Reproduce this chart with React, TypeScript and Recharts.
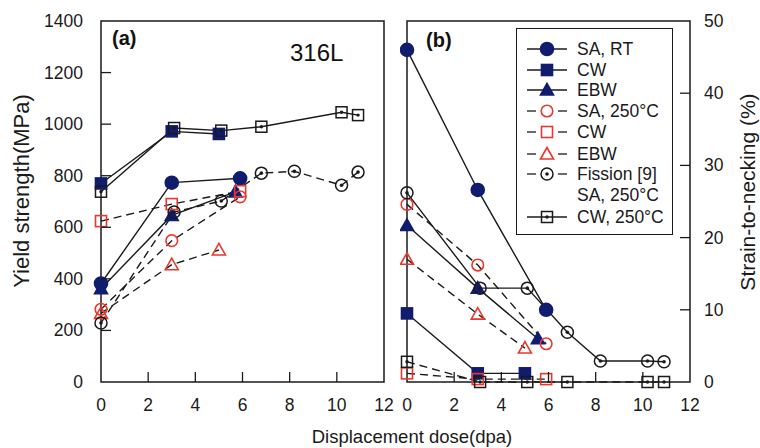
import React from "react";
import { LineChart, Line, XAxis, YAxis, ReferenceArea, Legend } from "recharts";

const NAVY = "#101c6e";
const RED = "#e8382d";
const INK = "#1a1a1a";
const FONT = "'Liberation Sans', Arial, sans-serif";

const doseTicks = [0, 2, 4, 6, 8, 10, 12];
const ysTicks = [0, 200, 400, 600, 800, 1000, 1200, 1400];
const stnTicks = [0, 10, 20, 30, 40, 50];

// (a) yield strength, MPa
const saRtDoseA = [0, 3, 5.9];
const saRtYs = [382, 773, 790];
const cwRtDoseA = [0, 3, 5];
const cwRtYs = [770, 972, 962];
const ebwRtDoseA = [0, 3, 5.7];
const ebwRtYs = [362, 646, 737];
const sa250DoseA = [0, 3, 5.9];
const sa250Ys = [282, 548, 718];
const cw250DoseA = [0, 3, 5.9];
const cw250Ys = [624, 690, 740];
const ebw250DoseA = [0, 3, 5];
const ebw250Ys = [266, 455, 512];
const fisSaDoseA = [0, 3.1, 5.1, 6.8, 8.2, 10.2, 10.9];
const fisSaYs = [229, 659, 702, 810, 817, 763, 814];
const fisCwDoseA = [0, 3.1, 5.1, 6.8, 10.2, 10.9];
const fisCwYs = [738, 985, 975, 990, 1046, 1035];

// (b) strain-to-necking, %
const saRtDoseB = [0, 3, 5.9];
const saRtStn = [46, 26.6, 10];
const cwRtDoseB = [0, 3, 5];
const cwRtStn = [9.5, 1.2, 1.2];
const ebwRtDoseB = [0, 3, 5.55];
const ebwRtStn = [21.7, 13, 6];
const sa250DoseB = [0, 3, 5.9];
const sa250Stn = [24.6, 16.2, 5.3];
const cw250DoseB = [0, 3, 5.9];
const cw250Stn = [1.2, 0.4, 0.4];
const ebw250DoseB = [0, 3, 5];
const ebw250Stn = [17, 9.4, 4.7];
const fisSaDoseB = [0, 3.1, 5.1, 6.8, 8.2, 10.2, 10.9];
const fisSaStn = [26.2, 13, 13, 6.9, 2.9, 2.9, 2.8];
const fisCwDoseB = [0, 3.1, 5.1, 6.8, 10.2, 10.9];
const fisCwStn = [2.8, 0, 0, 0, 0, 0];

const zip = (xs: number[], ys: number[]) => xs.map((x, i) => ({ x, y: ys[i] }));

type Shape = "circle" | "square" | "triangle" | "dotCircle" | "dotSquare";

const styles: Record<string, { shape: Shape; color: string; filled: boolean; dashA: boolean; dashB: boolean }> = {
  saRt: { shape: "circle", color: NAVY, filled: true, dashA: false, dashB: false },
  cwRt: { shape: "square", color: NAVY, filled: true, dashA: false, dashB: false },
  ebwRt: { shape: "triangle", color: NAVY, filled: true, dashA: false, dashB: false },
  sa250: { shape: "circle", color: RED, filled: false, dashA: true, dashB: true },
  cw250: { shape: "square", color: RED, filled: false, dashA: true, dashB: true },
  ebw250: { shape: "triangle", color: RED, filled: false, dashA: true, dashB: true },
  fisSa: { shape: "dotCircle", color: INK, filled: false, dashA: true, dashB: false },
  fisCw: { shape: "dotSquare", color: INK, filled: false, dashA: false, dashB: true },
};

const panelA = [
  { id: "saRt", data: zip(saRtDoseA, saRtYs) },
  { id: "cwRt", data: zip(cwRtDoseA, cwRtYs) },
  { id: "ebwRt", data: zip(ebwRtDoseA, ebwRtYs) },
  { id: "sa250", data: zip(sa250DoseA, sa250Ys) },
  { id: "cw250", data: zip(cw250DoseA, cw250Ys) },
  { id: "ebw250", data: zip(ebw250DoseA, ebw250Ys) },
  { id: "fisSa", data: zip(fisSaDoseA, fisSaYs) },
  { id: "fisCw", data: zip(fisCwDoseA, fisCwYs) },
];

const panelB = [
  { id: "saRt", data: zip(saRtDoseB, saRtStn) },
  { id: "cwRt", data: zip(cwRtDoseB, cwRtStn) },
  { id: "ebwRt", data: zip(ebwRtDoseB, ebwRtStn) },
  { id: "sa250", data: zip(sa250DoseB, sa250Stn) },
  { id: "cw250", data: zip(cw250DoseB, cw250Stn) },
  { id: "ebw250", data: zip(ebw250DoseB, ebw250Stn) },
  { id: "fisSa", data: zip(fisSaDoseB, fisSaStn) },
  { id: "fisCw", data: zip(fisCwDoseB, fisCwStn) },
];

const legendRows = [
  { id: "saRt", label: "SA, RT" },
  { id: "cwRt", label: "CW" },
  { id: "ebwRt", label: "EBW" },
  { id: "sa250", label: "SA, 250°C" },
  { id: "cw250", label: "CW" },
  { id: "ebw250", label: "EBW" },
  { id: "fisSa", label: "Fission [9]", extra: "SA, 250°C" },
  { id: "fisCw", label: "CW, 250°C" },
];

function Marker({ cx, cy, shape, color, filled }: any) {
  if (cx == null || cy == null) return null;
  const fill = filled ? color : "none";
  const sw = 1.6;
  switch (shape as Shape) {
    case "circle":
      return <circle cx={cx} cy={cy} r={filled ? 6.5 : 5.8} fill={fill} stroke={color} strokeWidth={sw} />;
    case "square":
      return <rect x={cx - 5.5} y={cy - 5.5} width={11} height={11} fill={fill} stroke={color} strokeWidth={sw} />;
    case "triangle":
      return (
        <polygon
          points={`${cx},${cy - 6.5} ${cx + 6.5},${cy + 5} ${cx - 6.5},${cy + 5}`}
          fill={fill}
          stroke={color}
          strokeWidth={sw}
        />
      );
    case "dotCircle":
      return (
        <g>
          <circle cx={cx} cy={cy} r={6} fill="none" stroke={color} strokeWidth={1.5} />
          <circle cx={cx} cy={cy} r={1.8} fill={color} />
        </g>
      );
    default:
      return (
        <g>
          <rect x={cx - 5.5} y={cy - 5.5} width={11} height={11} fill="none" stroke={color} strokeWidth={1.5} />
          <circle cx={cx} cy={cy} r={1.7} fill={color} />
        </g>
      );
  }
}

const BottomTick = ({ x, y, payload }: any) => (
  <g>
    {payload.value > 0 && payload.value < 12 && (
      <line x1={x} x2={x} y1={y} y2={y - 10} stroke={INK} strokeWidth={1.3} />
    )}
    <text x={x} y={y + 29} textAnchor="middle" fontSize={17.5} fontFamily={FONT} fill="#1a1a1a">
      {payload.value}
    </text>
  </g>
);

const LeftTick = ({ x, y, payload }: any) => (
  <g>
    {payload.value > 0 && payload.value < 1400 && (
      <line x1={x} x2={x + 10} y1={y} y2={y} stroke={INK} strokeWidth={1.3} />
    )}
    <text x={x - 18} y={y + 6} textAnchor="end" fontSize={17.5} fontFamily={FONT} fill="#1a1a1a">
      {payload.value}
    </text>
  </g>
);

const RightTick = ({ x, y, payload }: any) => (
  <g>
    {payload.value > 0 && payload.value < 50 && (
      <line x1={x} x2={x - 10} y1={y} y2={y} stroke={INK} strokeWidth={1.3} />
    )}
    <text x={x + 14} y={y + 6} textAnchor="start" fontSize={17.5} fontFamily={FONT} fill="#1a1a1a">
      {payload.value}
    </text>
  </g>
);

function renderSeries(list: { id: string; data: { x: number; y: number }[] }[], panel: "a" | "b") {
  return list.map((s) => {
    const st = styles[s.id];
    const dashed = panel === "a" ? st.dashA : st.dashB;
    return (
      <Line
        key={s.id}
        data={s.data}
        dataKey="y"
        type="linear"
        stroke={INK}
        strokeWidth={1.4}
        strokeDasharray={dashed ? "8 5" : undefined}
        isAnimationActive={false}
        dot={(p: any) => (
          <Marker key={`${s.id}-${p.index}`} cx={p.cx} cy={p.cy} shape={st.shape} color={st.color} filled={st.filled} />
        )}
        activeDot={false}
      />
    );
  });
}

const LegendBox = () => {
  const rowsY = [21, 42, 62, 83, 104, 126, 146, 189];
  return (
    <div style={{ width: 157, height: 207, border: `1.5px solid ${INK}`, background: "#fff", boxSizing: "border-box" }}>
      <svg width={155} height={205}>
        {legendRows.map((r, i) => {
          const st = styles[r.id];
          const cy = rowsY[i] - 1;
          const dashed = st.color !== NAVY && r.id !== "fisCw";
          return (
            <g key={r.id + i}>
              {dashed ? (
                <g>
                  <line x1={10} x2={19} y1={cy} y2={cy} stroke={INK} strokeWidth={1.3} />
                  <line x1={41} x2={50} y1={cy} y2={cy} stroke={INK} strokeWidth={1.3} />
                </g>
              ) : (
                <line x1={10} x2={50} y1={cy} y2={cy} stroke={INK} strokeWidth={1.3} />
              )}
              <Marker cx={30} cy={cy} shape={st.shape} color={st.color} filled={st.filled} />
              <text x={60} y={cy + 6} fontSize={17.5} fontFamily={FONT} fill="#1a1a1a">
                {r.label}
              </text>
              {r.extra && (
                <text x={60} y={cy + 27} fontSize={17.5} fontFamily={FONT} fill="#1a1a1a">
                  {r.extra}
                </text>
              )}
            </g>
          );
        })}
      </svg>
    </div>
  );
};

export default function App() {
  return (
    <div style={{ position: "absolute", left: 0, top: 0, width: 760, height: 448, background: "#fff", fontFamily: FONT }}>
      <div style={{ position: "absolute", left: 0, top: 0 }}>
        <LineChart width={400} height={448} margin={{ top: 21, right: 16, left: 0, bottom: 36 }}>
          <XAxis
            type="number"
            dataKey="x"
            domain={[0, 12]}
            ticks={doseTicks}
            interval={0}
            axisLine={false}
            tickLine={false}
            tickSize={0}
            tickMargin={0}
            height={30}
            tick={<BottomTick />}
            allowDuplicatedCategory={false}
          />
          <YAxis
            type="number"
            domain={[0, 1400]}
            ticks={ysTicks}
            interval={0}
            axisLine={false}
            tickLine={false}
            tickSize={0}
            tickMargin={0}
            width={101}
            tick={<LeftTick />}
          />
          <ReferenceArea x1={0} x2={12} y1={0} y2={1400} fill="none" stroke={INK} strokeWidth={1.5} ifOverflow="visible" />
          {renderSeries(panelA, "a")}
        </LineChart>
      </div>
      <div style={{ position: "absolute", left: 400, top: 0 }}>
        <LineChart width={360} height={448} margin={{ top: 21, right: 0, left: 7, bottom: 36 }}>
          <XAxis
            type="number"
            dataKey="x"
            domain={[0, 12]}
            ticks={doseTicks}
            interval={0}
            axisLine={false}
            tickLine={false}
            tickSize={0}
            tickMargin={0}
            height={30}
            tick={<BottomTick />}
            allowDuplicatedCategory={false}
          />
          <YAxis
            type="number"
            orientation="right"
            domain={[0, 50]}
            ticks={stnTicks}
            interval={0}
            axisLine={false}
            tickLine={false}
            tickSize={0}
            tickMargin={0}
            width={70}
            tick={<RightTick />}
          />
          <ReferenceArea x1={0} x2={12} y1={0} y2={50} fill="none" stroke={INK} strokeWidth={1.5} ifOverflow="visible" />
          {renderSeries(panelB, "b")}
          <Legend
            layout="horizontal"
            align="center"
            verticalAlign="middle"
            content={<LegendBox />}
            wrapperStyle={{ left: 116, top: 28, width: 157, height: 207 }}
          />
        </LineChart>
      </div>
      <svg width={760} height={448} style={{ position: "absolute", left: 0, top: 0, pointerEvents: "none" }}>
        <text x={112} y={45} fontSize={20} fontWeight="bold" fontFamily={FONT} fill="#111">(a)</text>
        <text x={290} y={61} fontSize={24} fontFamily={FONT} fill="#111">316L</text>
        <text x={426} y={47} fontSize={20} fontWeight="bold" fontFamily={FONT} fill="#111">(b)</text>
        <text x={412} y={443} textAnchor="middle" fontSize={18.5} fontFamily={FONT} fill="#1a1a1a">
          Displacement dose(dpa)
        </text>
        <text x={29} y={191} textAnchor="middle" fontSize={22} fontFamily={FONT} fill="#1a1a1a" transform="rotate(-90 29 191)">
          Yield strength(MPa)
        </text>
        <text x={755} y={192} textAnchor="middle" fontSize={21} fontFamily={FONT} fill="#1a1a1a" transform="rotate(-90 755 192)">
          Strain-to-necking (%)
        </text>
      </svg>
    </div>
  );
}
